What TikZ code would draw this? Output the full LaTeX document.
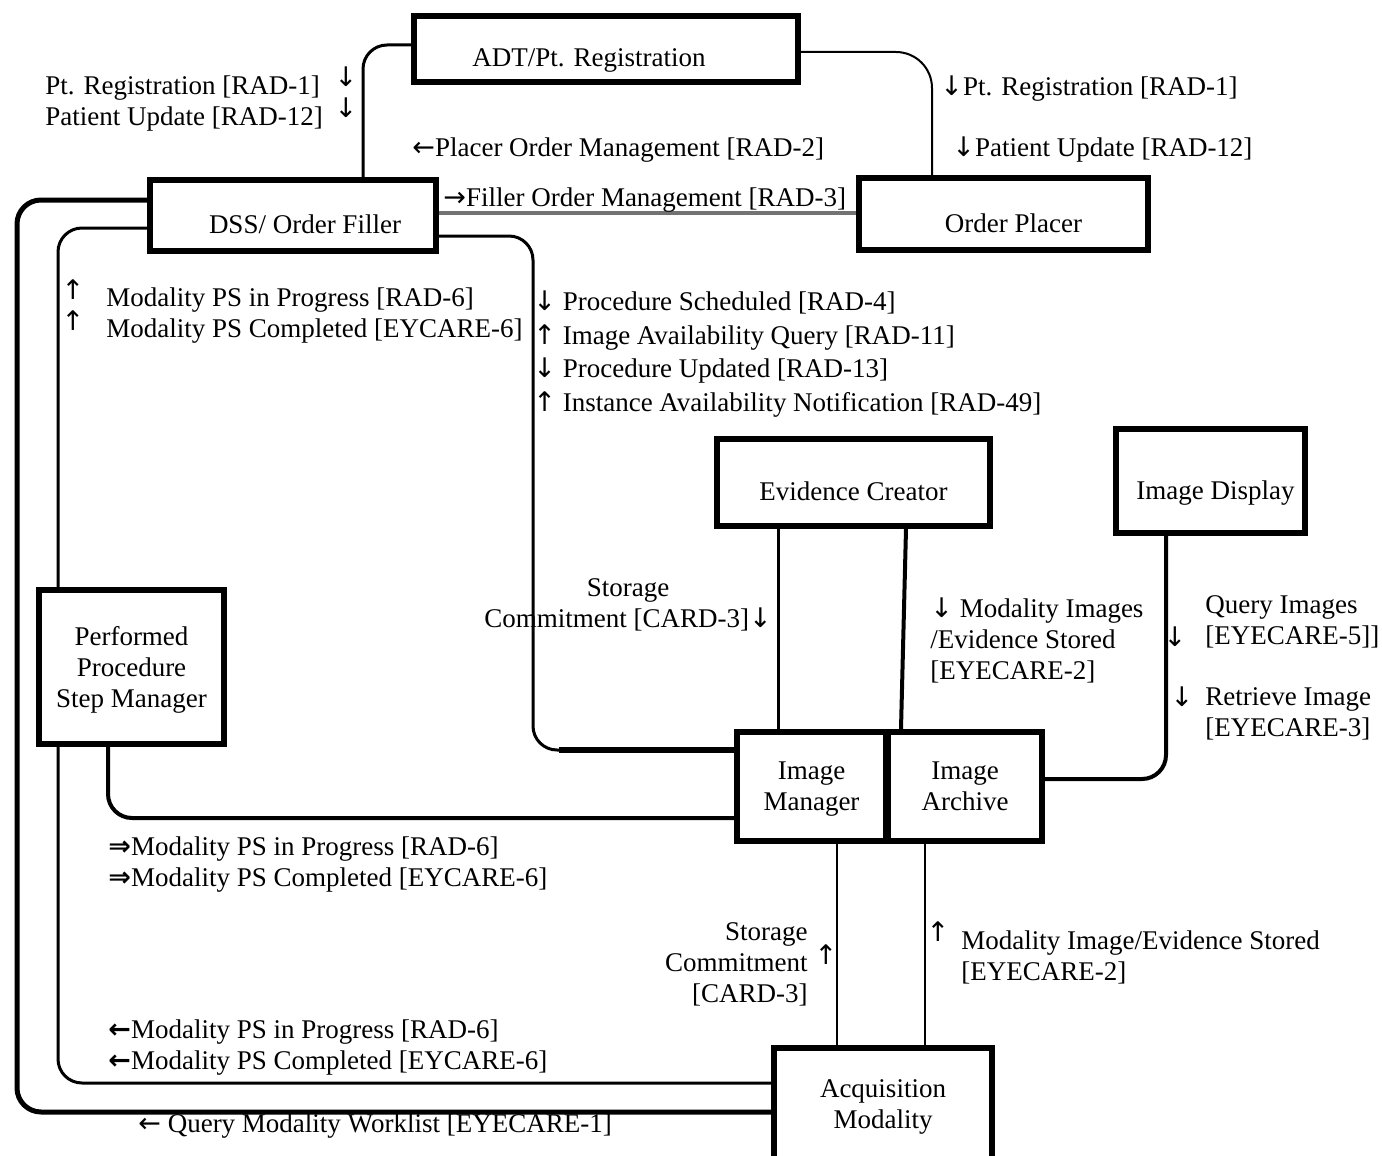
\documentclass[tikz,border=0pt]{standalone}
\usepackage{fontspec}
\setmainfont{Liberation Serif}
\newfontfamily\arrowfont{DejaVu Sans}
\newcommand\dn{{\arrowfont ↓}}
\newcommand\up{{\arrowfont ↑}}
\newcommand\lt{{\arrowfont ←}}
\newcommand\rt{{\arrowfont →}}
\usetikzlibrary{backgrounds}

\begin{document}
\begin{tikzpicture}
[x=0.5pt, y=-0.5pt,
 font=\fontsize{13.5}{15.5}\selectfont,
 actor/.style={draw, line width=3pt, fill=white, inner sep=0pt},
 lowtext/.style={text height=21pt, text depth=3pt},
 stack/.style={actor, align=center, text depth=-2pt},
 msg/.style={inner sep=0pt, anchor=west, align=left},
 tip/.style={inner sep=0pt, align=center},
 link/.style={line width=1.5pt, rounded corners=12pt}]
\useasboundingbox (0,0) rectangle (1382,1156);

% actors
\node [actor, lowtext, minimum width=192pt, minimum height=33pt] (adt) at (606,49) {\kern-17pt ADT/Pt. Registration};
\node [actor, lowtext, minimum width=143pt, minimum height=35.5pt] (dss) at (293,215.5) {\kern12pt DSS/ Order Filler};
\node [actor, lowtext, minimum width=144.5pt, minimum height=36pt] (op) at (1003.5,214) {\kern10pt Order Placer};
\node [actor, lowtext, minimum width=136.5pt, minimum height=43.5pt] (ec) at (853.5,482.5) {Evidence Creator};
\node [actor, lowtext, minimum width=94.5pt, minimum height=52pt] (id) at (1210.5,481) {\kern5pt Image Display};
\node [stack, minimum width=92.5pt, minimum height=77pt] (ppsm) at (131.5,667) {Performed\\Procedure\\Step Manager};
\node [stack, minimum width=74.5pt, minimum height=54.5pt] (im) at (811.5,786.5) {Image\\Manager};
\node [stack, minimum width=77pt, minimum height=54.5pt] (ia) at (965,786.5) {Image\\Archive};
\node [stack, minimum width=109pt, minimum height=56pt] (am) at (883,1104) {Acquisition\\Modality};

% transactions
\begin{scope}[on background layer]
\draw [link] ([yshift=2pt]adt.west) -| ([xshift=35pt]dss.north);
\draw [link, line width=1pt, rounded corners=18pt] ([yshift=-1.5pt]adt.east) -| ([xshift=-35.75pt]op.north);
\draw [line width=1.6pt, black!55] ([yshift=1.25pt]dss.east) -- ([yshift=1.25pt]dss.east -| op.west);
\coordinate (filler) at (533,500);
\draw [link] ([yshift=-10.25pt]dss.east) -| (filler) |- ([yshift=18.25pt]im.west);
\draw [line width=3pt] ([yshift=18.25pt]im.west) -- ++(-175,0);
\coordinate (outer) at (17,600);
\draw [link, line width=2.5pt] ([yshift=7.75pt]dss.west) -| (outer) |- ([yshift=-4pt]am.west);
\coordinate (inner) at (58,600);
\draw [link] ([yshift=-6.25pt]dss.west) -| (inner) |- ([yshift=10.5pt]am.west);
\draw [link, line width=2pt] ([xshift=-11.75pt]ppsm.south) |- ([yshift=-15.75pt]im.west);
\draw [link] ([xshift=-37.75pt]ec.south) -- ([xshift=-37.75pt]ec.south |- im.north);
\draw [link, line width=2pt] ([xshift=26.25pt]ec.south) -- ([xshift=-32pt]ia.north);
\draw [link, line width=2pt] ([xshift=-22.25pt]id.south) |- ([yshift=3.75pt]ia.east);
\draw [line width=1pt] ([xshift=12.75pt]im.south) -- ([xshift=12.75pt]im.south |- am.north);
\draw [line width=1pt] ([xshift=-20pt]ia.south) -- ([xshift=-20pt]ia.south |- am.north);
\end{scope}

% labels
\node [msg] (lptreg) at (45,104) {Pt. Registration [RAD-1]\\Patient Update [RAD-12]};
\node [tip] (lptarr) at (346,92) {\dn\\\dn};
\node [msg] (lplacer) at (412,150) {\lt Placer Order Management [RAD-2]};
\node [msg] (lfiller) at (443,200) {\rt Filler Order Management [RAD-3]};
\node [msg] (loreg) at (940,89) {\dn Pt. Registration [RAD-1]};
\node [msg] (loupd) at (952,150) {\dn Patient Update [RAD-12]};
\node [tip] (lpsarr) at (73,305) {\up\\\up};
\node [msg] (lps) at (106,316) {Modality PS in Progress [RAD-6]\\Modality PS Completed [EYCARE-6]};
\node [msg, font=\fontsize{13.5}{16.75}\selectfont] (lsched) at (533,354) {\dn\ Procedure Scheduled [RAD-4]\\\up\ Image Availability Query [RAD-11]\\\dn\ Procedure Updated [RAD-13]\\\up\ Instance Availability Notification [RAD-49]};
\node [tip] (lstor1) at (628,605) {Storage\\Commitment [CARD-3]\dn};
\node [msg] (lmodimg) at (930,640) {\dn\ Modality Images\\/Evidence Stored\\{}[EYECARE-2]};
\node [msg] (lquery) at (1205,622) {Query Images\\{}[EYECARE-5]]};
\node [tip] (lqarr) at (1175,637) {\dn};
\node [msg] (lretr) at (1205,714) {Retrieve Image\\{}[EYECARE-3]};
\node [tip] (lrarr) at (1182,697) {\dn};
\node [msg] (lpsfw) at (108,865) {{\arrowfont\bfseries ⇒}Modality PS in Progress [RAD-6]\\{\arrowfont\bfseries ⇒}Modality PS Completed [EYCARE-6]};
\node [tip, anchor=east, align=right] (lstor2) at (808,964) {Storage\\Commitment\\{}[CARD-3]};
\node [tip] (lstarr) at (826,955) {\up};
\node [tip] (lmiarr) at (938,932) {\up};
\node [msg] (lmodimg2) at (961,957) {Modality Image/Evidence Stored\\{}[EYECARE-2]};
\node [msg] (lpsbk) at (108,1048) {{\arrowfont\bfseries ←}Modality PS in Progress [RAD-6]\\{\arrowfont\bfseries ←}Modality PS Completed [EYCARE-6]};
\node [msg] (lwork) at (138,1126) {\lt\ Query Modality Worklist [EYECARE-1]};
\end{tikzpicture}
\end{document}
